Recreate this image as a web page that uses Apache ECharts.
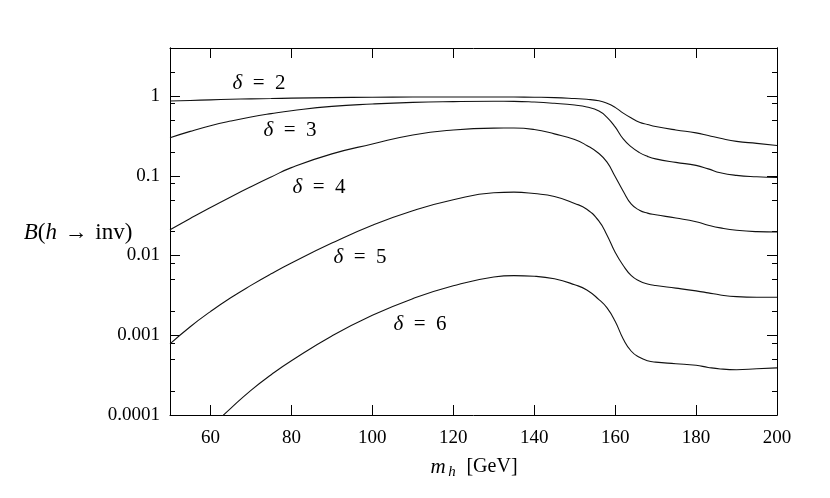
<!DOCTYPE html>
<html>
<head>
<meta charset="utf-8">
<script src="https://cdn.jsdelivr.net/npm/echarts@6/dist/echarts.min.js"></script>
<style>
  html, body { margin: 0; padding: 0; background: #fff; }
  #chart { width: 830px; height: 498px; }
</style>
</head>
<body>
<div id="chart"></div>
<script>
  'use strict'

  // Higgs mass grid (GeV)
  var masses = [50, 55, 60, 65, 70, 75, 80, 90, 100, 110, 120, 130, 135, 140, 145, 150,
                153, 156, 158, 160, 162, 164, 166, 168, 170, 175, 180, 183, 186, 190, 195, 200];

  // B(h -> inv) for each delta
  var brDelta2 = [0.865, 0.88, 0.895, 0.91, 0.92, 0.93, 0.94, 0.955, 0.965, 0.97, 0.972, 0.972, 0.97, 0.965, 0.955, 0.93,
                  0.91, 0.87, 0.81, 0.72, 0.61, 0.53, 0.47, 0.44, 0.415, 0.375, 0.345, 0.32, 0.295, 0.27, 0.255, 0.24];
  var brDelta3 = [0.30, 0.36, 0.424, 0.486, 0.546, 0.601, 0.653, 0.741, 0.794, 0.832, 0.851, 0.859, 0.857, 0.84, 0.81, 0.77,
                  0.73, 0.65, 0.54, 0.41, 0.29, 0.23, 0.195, 0.175, 0.163, 0.147, 0.135, 0.122, 0.109, 0.101, 0.097, 0.095];
  var brDelta4 = [0.021, 0.0291, 0.040, 0.0543, 0.0728, 0.0965, 0.1265, 0.188, 0.25, 0.325, 0.375, 0.396, 0.397, 0.38, 0.335, 0.285,
                  0.24, 0.19, 0.148, 0.098, 0.064, 0.044, 0.037, 0.034, 0.0325, 0.0295, 0.0265, 0.024, 0.0222, 0.0207, 0.0199, 0.0197];
  var brDelta5 = [0.00078, 0.00128, 0.00198, 0.00295, 0.00422, 0.00589, 0.00804, 0.0143, 0.024, 0.0365, 0.0501, 0.0612, 0.0623, 0.0598, 0.055, 0.045,
                  0.038, 0.027, 0.018, 0.011, 0.0075, 0.0056, 0.0048, 0.0044, 0.0042, 0.0039, 0.0036, 0.0034, 0.0032, 0.00305, 0.0030, 0.0030];
  var brDelta6 = [null, null, 0.00007, 0.000121, 0.000204, 0.00032, 0.000479, 0.00098, 0.00178, 0.00288, 0.00417, 0.00537, 0.0056, 0.0055, 0.0051, 0.0043,
                  0.0037, 0.0028, 0.0022, 0.0015, 0.0009, 0.00063, 0.00053, 0.00048, 0.00046, 0.00044, 0.00042, 0.000395, 0.000378, 0.00037, 0.00038, 0.00039];

  var deltaNames = ['2', '3', '4', '5', '6'];

  // axis ticks
  var massTicks = [60, 80, 100, 120, 140, 160, 180, 200];
  var brMajorTicks = [0.0001, 0.001, 0.01, 0.1, 1];
  var brMinorTicks = [0.0002, 0.0005, 0.0008, 0.002, 0.005, 0.008, 0.02, 0.05, 0.08,
                      0.2, 0.5, 0.8, 2];

  var serif = "'Liberation Serif', 'DejaVu Serif', serif";

  function pairs(ys) {
    return masses.map(function (m, i) { return [m, ys[i]]; });
  }

  var curves = [brDelta2, brDelta3, brDelta4, brDelta5, brDelta6];

  var seriesList = curves.map(function (ys, i) {
    return {
      name: 'delta ' + deltaNames[i],
      type: 'line',
      data: pairs(ys),
      showSymbol: false,
      smooth: 0.5,
      clip: true,
      lineStyle: { color: '#111', width: 1.1 },
      xAxisIndex: 0,
      yAxisIndex: 0
    };
  });

  function xAxisCfg(pos, labels) {
    return {
      type: 'value',
      position: pos,
      min: 50,
      max: 200,
      axisLine: { show: true, onZero: false, lineStyle: { color: '#000', width: 1 } },
      axisTick: { show: true, inside: true, length: 10, customValues: massTicks,
                  lineStyle: { color: '#000', width: 1 } },
      axisLabel: { show: labels, customValues: massTicks, margin: 14,
                   fontFamily: serif, fontSize: 19, color: '#000' },
      splitLine: { show: false }
    };
  }

  function yAxisCfg(pos, ticks, len, labels) {
    return {
      type: 'log',
      logBase: 10,
      position: pos,
      min: 0.0001,
      max: 4,
      axisLine: { show: true, lineStyle: { color: '#000', width: 1 } },
      axisTick: { show: true, inside: true, length: len, customValues: ticks,
                  lineStyle: { color: '#000', width: 1 } },
      axisLabel: { show: labels, customValues: ticks, margin: 10,
                   fontFamily: serif, fontSize: 19, color: '#000',
                   formatter: function (v) { return String(+Number(v).toPrecision(1)); } },
      splitLine: { show: false }
    };
  }

  var deltaLabels = [
    { x: 259, y: 83 },
    { x: 290, y: 130 },
    { x: 319, y: 187 },
    { x: 360, y: 257 },
    { x: 420, y: 324 }
  ];

  var italic = { fontFamily: serif, fontSize: 21, fontStyle: 'italic', color: '#000' };

  var graphics = deltaLabels.map(function (p, i) {
    return {
      type: 'text',
      x: p.x,
      y: p.y,
      style: {
        text: '{i|\u03b4}\u2002=\u2002' + deltaNames[i],
        rich: { i: italic },
        fontFamily: serif, fontSize: 21, fill: '#000',
        align: 'center', verticalAlign: 'middle'
      }
    };
  });

  graphics.push({
    type: 'text',
    x: 78,
    y: 233,
    style: {
      text: '{i|B}({i|h}\u2004\u2192\u2004inv)',
      rich: { i: { fontFamily: serif, fontSize: 23, fontStyle: 'italic', color: '#000' } },
      fontFamily: serif, fontSize: 23, fill: '#000',
      align: 'center', verticalAlign: 'middle'
    }
  });

  graphics.push({
    type: 'text', x: 438, y: 467,
    style: { text: 'm', fontFamily: serif, fontSize: 21, fontStyle: 'italic', fill: '#000',
             align: 'center', verticalAlign: 'middle' }
  });
  graphics.push({
    type: 'text', x: 452, y: 472,
    style: { text: 'h', fontFamily: serif, fontSize: 15, fontStyle: 'italic', fill: '#000',
             align: 'center', verticalAlign: 'middle' }
  });
  graphics.push({
    type: 'text', x: 492, y: 467,
    style: { text: '[GeV]', fontFamily: serif, fontSize: 20, fill: '#000',
             align: 'center', verticalAlign: 'middle' }
  });

  var chart = echarts.init(document.getElementById('chart'), null, { renderer: 'canvas' });

  var option = {
    animation: false,
    backgroundColor: '#fff',
    grid: { left: 170, right: 53, top: 48, bottom: 83 },
    xAxis: [xAxisCfg('bottom', true), xAxisCfg('top', false)],
    yAxis: [
      yAxisCfg('left', brMajorTicks, 10, true),
      yAxisCfg('left', brMinorTicks, 5, false),
      yAxisCfg('right', brMajorTicks, 10, false),
      yAxisCfg('right', brMinorTicks, 5, false)
    ],
    graphic: graphics,
    series: seriesList
  };

  chart.setOption(option);
</script>
</body>
</html>
